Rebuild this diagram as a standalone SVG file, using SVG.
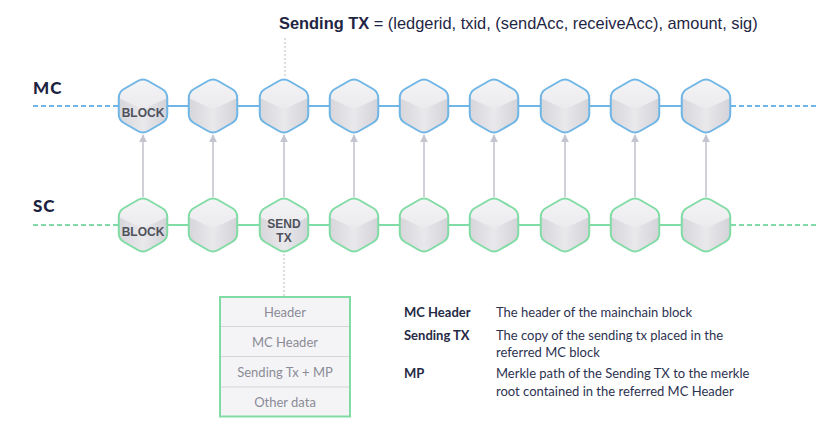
<svg xmlns="http://www.w3.org/2000/svg" xmlns:xlink="http://www.w3.org/1999/xlink" width="830" height="428" viewBox="0 0 830 428">
<style>
.title{font-family:"Liberation Sans",Arial,sans-serif;font-size:16.4px;fill:#1f2544}
.chain{font-family:Lato,"Liberation Sans",sans-serif;font-weight:900;font-size:17px;fill:#1c2340;letter-spacing:1px}
.blk{font-family:"Liberation Sans",Arial,sans-serif;font-weight:bold;font-size:12px;fill:#50515c;text-anchor:middle}
.row{font-family:Lato,"Liberation Sans",sans-serif;font-size:13px;fill:#8b8b96;text-anchor:middle}
.lk{font-family:Lato,"Liberation Sans",sans-serif;font-weight:bold;font-size:13px;fill:#252a45}
.lv{font-family:Lato,"Liberation Sans",sans-serif;font-size:13px;fill:#2d3250}
.mcl{stroke:#6fb5e6;stroke-width:2;fill:none}
.scl{stroke:#80dca4;stroke-width:2;fill:none}
.dash{stroke-dasharray:5 3}
.arr{stroke:#c5c5cf;stroke-width:1.6;fill:none;marker-end:url(#ah)}
.dot{stroke:#c9c9cf;stroke-width:1.2;stroke-dasharray:2 2;fill:none}
</style>
<defs>
<linearGradient id="body" x1="0" y1="0" x2="1" y2="0">
<stop offset="0" stop-color="#d6d6db"/>
<stop offset="0.5" stop-color="#e9e9ec"/>
<stop offset="1" stop-color="#d2d2d8"/>
</linearGradient>
<linearGradient id="top" x1="0" y1="0" x2="0" y2="1">
<stop offset="0" stop-color="#f4f4f6"/>
<stop offset="1" stop-color="#ebebee"/>
</linearGradient>
<path id="hexo" d="M-5.2,-25 Q0,-28 5.2,-25 L19.05,-17 Q24.25,-14 24.25,-8 L24.25,8 Q24.25,14 19.05,17 L5.2,25 Q0,28 -5.2,25 L-19.05,17 Q-24.25,14 -24.25,8 L-24.25,-8 Q-24.25,-14 -19.05,-17 Z"/>
<g id="cube">
<use href="#hexo" fill="url(#body)"/>
<path d="M-24.25,-8 Q-24.25,-14 -19.05,-17 L-5.2,-25 Q0,-28 5.2,-25 L19.05,-17 Q24.25,-14 24.25,-8 L5,1 Q0,3.5 -5,1 Z" fill="url(#top)"/>
</g>
<marker id="ah" viewBox="0 0 10 10" refX="9" refY="5" markerWidth="5" markerHeight="5" orient="auto" markerUnits="strokeWidth">
<path d="M0,0 L10,5 L0,10 Z" fill="#c5c5cf"/>
</marker>
</defs>
<rect width="830" height="428" fill="#ffffff"/>

<g id="title">
<text class="title" x="279" y="29"><tspan font-weight="bold">Sending TX</tspan> = (ledgerid, txid, (sendAcc, receiveAcc), amount, sig)</text>
</g>
<g id="label-mc"><text class="chain" x="33" y="94">MC</text></g>
<g id="label-sc"><text class="chain" x="33" y="212">SC</text></g>

<g id="connectors">
<line class="mcl dash" x1="33" y1="106" x2="119" y2="106"/>
<line class="mcl dash" x1="731" y1="106" x2="818" y2="106"/>
<line class="scl dash" x1="33" y1="225" x2="119" y2="225"/>
<line class="scl dash" x1="731" y1="225" x2="818" y2="225"/>
<path class="mcl" d="M167,106H189 M238,106H260 M308,106H330 M378,106H400 M448,106H470 M519,106H541 M589,106H611 M659,106H682"/>
<path class="scl" d="M167,225H189 M238,225H260 M308,225H330 M378,225H400 M448,225H470 M519,225H541 M589,225H611 M659,225H682"/>
<line class="arr" x1="143" y1="197" x2="143" y2="135"/>
<line class="arr" x1="213" y1="197" x2="213" y2="135"/>
<line class="arr" x1="284" y1="197" x2="284" y2="135"/>
<line class="arr" x1="354" y1="197" x2="354" y2="135"/>
<line class="arr" x1="424" y1="197" x2="424" y2="135"/>
<line class="arr" x1="494" y1="197" x2="494" y2="135"/>
<line class="arr" x1="565" y1="197" x2="565" y2="135"/>
<line class="arr" x1="635" y1="197" x2="635" y2="135"/>
<line class="arr" x1="706" y1="197" x2="706" y2="135"/>
<line class="dot" x1="285" y1="38" x2="285" y2="78"/>
<line class="dot" x1="284" y1="254" x2="284" y2="297"/>
</g>

<g id="mc1" transform="translate(143,106)"><use href="#cube"/><use href="#hexo" class="mcl" stroke-width="1.6"/><text class="blk" y="11">BLOCK</text></g>
<g id="mc2" transform="translate(213,106)"><use href="#cube"/><use href="#hexo" class="mcl" stroke-width="1.6"/></g>
<g id="mc3" transform="translate(284,106)"><use href="#cube"/><use href="#hexo" class="mcl" stroke-width="1.6"/></g>
<g id="mc4" transform="translate(354,106)"><use href="#cube"/><use href="#hexo" class="mcl" stroke-width="1.6"/></g>
<g id="mc5" transform="translate(424,106)"><use href="#cube"/><use href="#hexo" class="mcl" stroke-width="1.6"/></g>
<g id="mc6" transform="translate(494,106)"><use href="#cube"/><use href="#hexo" class="mcl" stroke-width="1.6"/></g>
<g id="mc7" transform="translate(565,106)"><use href="#cube"/><use href="#hexo" class="mcl" stroke-width="1.6"/></g>
<g id="mc8" transform="translate(635,106)"><use href="#cube"/><use href="#hexo" class="mcl" stroke-width="1.6"/></g>
<g id="mc9" transform="translate(706,106)"><use href="#cube"/><use href="#hexo" class="mcl" stroke-width="1.6"/></g>

<g id="sc1" transform="translate(143,225)"><use href="#cube"/><use href="#hexo" class="scl" stroke-width="1.6"/><text class="blk" y="10.5">BLOCK</text></g>
<g id="sc2" transform="translate(213,225)"><use href="#cube"/><use href="#hexo" class="scl" stroke-width="1.6"/></g>
<g id="sc3" transform="translate(284,225)"><use href="#cube"/><use href="#hexo" class="scl" stroke-width="1.6"/><text class="blk" y="2.5">SEND</text><text class="blk" y="16.5">TX</text></g>
<g id="sc4" transform="translate(354,225)"><use href="#cube"/><use href="#hexo" class="scl" stroke-width="1.6"/></g>
<g id="sc5" transform="translate(424,225)"><use href="#cube"/><use href="#hexo" class="scl" stroke-width="1.6"/></g>
<g id="sc6" transform="translate(494,225)"><use href="#cube"/><use href="#hexo" class="scl" stroke-width="1.6"/></g>
<g id="sc7" transform="translate(565,225)"><use href="#cube"/><use href="#hexo" class="scl" stroke-width="1.6"/></g>
<g id="sc8" transform="translate(635,225)"><use href="#cube"/><use href="#hexo" class="scl" stroke-width="1.6"/></g>
<g id="sc9" transform="translate(706,225)"><use href="#cube"/><use href="#hexo" class="scl" stroke-width="1.6"/></g>

<g id="sendtx-block">
<rect x="220" y="297" width="130" height="119.5" fill="#f4f4f6" stroke="#80dca4" stroke-width="2"/>
<path d="M221,326.5H349 M221,356.5H349 M221,387H349" stroke="#d4d4da" stroke-width="1.2"/>
<text class="row" x="285" y="316.5">Header</text>
<text class="row" x="285" y="346.5">MC Header</text>
<text class="row" x="285" y="376.5">Sending Tx + MP</text>
<text class="row" x="285" y="406.5">Other data</text>
</g>

<g id="legend">
<text class="lk" x="404" y="317">MC Header</text>
<text class="lv" x="496" y="317">The header of the mainchain block</text>
<text class="lk" x="404" y="339.5">Sending TX</text>
<text class="lv" x="496" y="339.5">The copy of the sending tx placed in the</text>
<text class="lv" x="496" y="356.5">referred MC block</text>
<text class="lk" x="404" y="377.5">MP</text>
<text class="lv" x="496" y="377.5">Merkle path of the Sending TX to the merkle</text>
<text class="lv" x="496" y="395.5">root contained in the referred  MC Header</text>
</g>
</svg>
